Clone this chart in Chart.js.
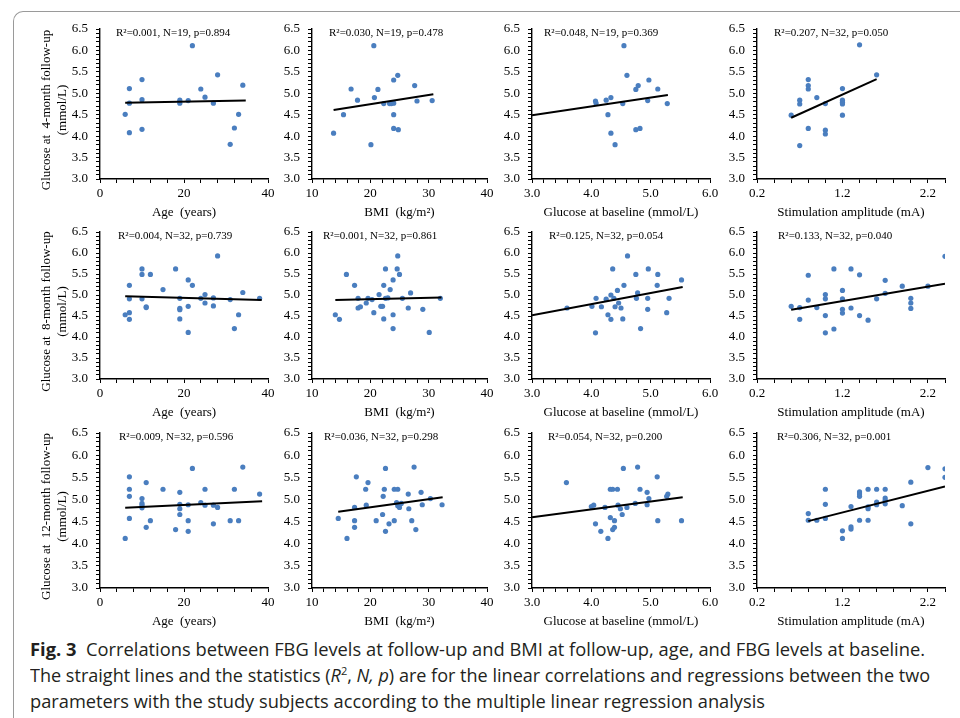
<!DOCTYPE html>
<html><head><meta charset="utf-8">
<script src="https://cdn.jsdelivr.net/npm/chart.js@4.4.1/dist/chart.umd.min.js"></script>
<style>
html,body{margin:0;padding:0;background:#fff;}
body{width:960px;height:718px;position:relative;overflow:hidden;}
.frame{position:absolute;left:13px;top:11px;width:980px;height:760px;border-left:1px solid #9a9a9a;border-top:1px solid #9a9a9a;border-top-left-radius:10px;}
canvas{position:absolute;}
.cap{position:absolute;left:30px;white-space:nowrap;font-family:"Open Sans";font-size:18px;line-height:26px;color:#231f20;transform-origin:0 50%;}
</style></head><body>
<div class="frame"></div>
<div class="cap" id="cap1" style="top:636px"><b>Fig. 3</b>&nbsp; Correlations between FBG levels at follow-up and BMI at follow-up, age, and FBG levels at baseline.</div>
<div class="cap" id="cap2" style="top:662px">The straight lines and the statistics (<i>R</i><sup style="font-size:11px;line-height:0">2</sup>, <i>N, p</i>) are for the linear correlations and regressions between the two</div>
<div class="cap" id="cap3" style="top:688px">parameters with the study subjects according to the multiple linear regression analysis</div>
<script>
// ---------- data ----------
// Row 1: glucose at 4-month follow-up
const age4X = [6, 7, 7, 7, 10, 10, 10, 19, 19, 21, 22, 24, 25, 27, 28, 31, 32, 33, 34];
const age4Y = [4.51, 5.11, 4.77, 4.08, 5.32, 4.85, 4.16, 4.84, 4.77, 4.83, 6.11, 5.10, 4.91, 4.77, 5.43, 3.81, 4.19, 4.51, 5.19];
const age4FitX = [6.0, 34.7]; const age4FitY = [4.78, 4.83];

const bmi4X = [13.7, 15.4, 16.7, 17.8, 20.1, 20.6, 20.7, 21.3, 22.3, 23.3, 23.6, 24.0, 24.0, 24.0, 24.0, 24.7, 24.8, 27.6, 28.0, 30.6];
const bmi4Y = [4.07, 4.50, 5.10, 4.84, 3.80, 6.11, 4.90, 5.09, 4.76, 4.76, 4.76, 4.77, 5.31, 4.50, 4.18, 5.42, 4.15, 5.18, 4.82, 4.83];
const bmi4FitX = [13.7, 30.8]; const bmi4FitY = [4.61, 4.98];

const base4X = [4.07, 4.08, 4.25, 4.28, 4.33, 4.33, 4.40, 4.53, 4.55, 4.60, 4.75, 4.75, 4.79, 4.82, 4.95, 4.97, 5.12, 5.28];
const base4Y = [4.82, 4.77, 4.84, 4.50, 4.90, 4.07, 3.80, 4.76, 6.11, 5.42, 4.15, 5.09, 5.18, 4.18, 4.83, 5.31, 5.10, 4.76];
const base4FitX = [3.0, 5.29]; const base4FitY = [4.49, 4.96];

const amp4X = [0.6, 0.7, 0.7, 0.7, 0.8, 0.8, 0.8, 0.8, 0.9, 1.0, 1.0, 1.0, 1.2, 1.2, 1.2, 1.2, 1.2, 1.4, 1.6];
const amp4Y = [4.49, 4.84, 4.75, 3.78, 5.32, 5.18, 5.10, 4.18, 4.90, 4.76, 4.14, 4.05, 5.11, 4.84, 4.79, 4.75, 4.49, 6.13, 5.43];
const amp4FitX = [0.6, 1.6]; const amp4FitY = [4.43, 5.33];

// Row 2: glucose at 8-month follow-up
const age8X = [6, 7, 7, 7, 7, 10, 10, 10, 11, 11, 12, 15, 18, 19, 19, 19, 19, 21, 21, 21, 22, 24, 25, 25, 27, 27, 28, 31, 32, 33, 34, 38];
const age8Y = [4.53, 5.23, 4.91, 4.58, 4.42, 5.62, 5.49, 4.91, 4.72, 4.70, 5.49, 5.13, 5.62, 4.92, 4.68, 4.65, 4.43, 5.36, 4.73, 4.11, 5.23, 4.92, 5.01, 4.81, 4.93, 4.74, 5.93, 4.89, 4.20, 4.53, 5.06, 4.92];
const age8FitX = [6.0, 38.5]; const age8FitY = [4.97, 4.88];

const bmi8X = [14.0, 14.7, 15.9, 17.3, 17.9, 17.9, 18.3, 19.3, 19.6, 20.3, 20.6, 21.5, 21.8, 22.1, 22.3, 22.3, 22.6, 22.6, 23.0, 23.4, 23.9, 23.9, 23.9, 24.6, 24.7, 25.0, 25.5, 26.9, 26.5, 29.0, 30.1, 32.0];
const bmi8Y = [4.53, 4.42, 5.49, 5.23, 4.92, 4.69, 4.72, 4.81, 4.92, 4.89, 4.58, 5.01, 4.73, 4.73, 5.23, 4.43, 4.92, 5.62, 4.93, 5.13, 5.36, 4.53, 4.20, 5.62, 5.93, 5.49, 4.92, 5.05, 4.69, 4.66, 4.11, 4.92];
const bmi8FitX = [14.0, 32.2]; const bmi8FitY = [4.88, 4.94];

const base8X = [3.59, 4.01, 4.08, 4.07, 4.17, 4.25, 4.28, 4.33, 4.33, 4.36, 4.38, 4.40, 4.44, 4.46, 4.50, 4.53, 4.55, 4.61, 4.75, 4.76, 4.78, 4.83, 4.95, 4.95, 4.96, 5.12, 5.11, 5.27, 5.31, 5.52];
const base8Y = [4.69, 4.73, 4.92, 4.10, 4.72, 4.90, 4.53, 5.00, 4.42, 5.62, 4.92, 4.72, 5.11, 4.81, 4.69, 4.43, 5.23, 5.93, 5.49, 4.92, 5.05, 4.20, 4.92, 4.66, 5.62, 5.49, 5.23, 4.58, 4.92, 5.36];
const base8FitX = [3.0, 5.54]; const base8FitY = [4.52, 5.19];

const amp8X = [0.6, 0.7, 0.7, 0.8, 0.8, 0.9, 1.0, 1.0, 1.0, 1.0, 1.1, 1.1, 1.2, 1.2, 1.2, 1.2, 1.3, 1.3, 1.4, 1.4, 1.5, 1.6, 1.7, 1.7, 1.9, 2.0, 2.0, 2.0, 2.2, 2.4];
const amp8Y = [4.73, 4.70, 4.42, 5.47, 4.88, 4.70, 5.01, 4.91, 4.51, 4.10, 5.62, 4.19, 5.11, 4.91, 4.66, 4.57, 5.62, 4.69, 5.48, 4.51, 4.40, 4.91, 5.35, 5.04, 5.21, 4.92, 4.81, 4.68, 5.21, 5.92];
const amp8FitX = [0.6, 2.4]; const amp8FitY = [4.65, 5.27];

// Row 3: glucose at 12-month follow-up
const age12X = [6, 7, 7, 7, 7, 10, 10, 10, 10, 11, 11, 12, 15, 18, 19, 19, 19, 19, 21, 21, 21, 22, 24, 25, 25, 27, 27, 28, 31, 32, 33, 34, 38];
const age12Y = [4.12, 5.51, 5.23, 5.07, 4.57, 5.02, 4.91, 4.87, 4.81, 5.38, 4.37, 4.52, 5.23, 4.32, 5.16, 4.89, 4.79, 4.66, 4.88, 4.52, 4.28, 5.70, 4.93, 5.23, 4.87, 4.87, 4.45, 4.82, 4.52, 5.23, 4.52, 5.73, 5.12];
const age12FitX = [6.0, 38.6]; const age12FitY = [4.81, 4.96];

const bmi12X = [14.5, 16.0, 17.3, 17.3, 17.3, 17.6, 19.2, 19.3, 19.6, 21.0, 22.1, 22.2, 22.4, 22.6, 22.6, 23.2, 24.1, 24.1, 24.7, 24.5, 24.7, 25.0, 25.3, 26.5, 26.6, 27.1, 27.5, 27.8, 28.7, 28.9, 30.3, 32.3];
const bmi12Y = [4.57, 4.12, 4.82, 4.52, 4.37, 5.51, 5.23, 4.87, 5.38, 4.52, 4.66, 5.07, 5.23, 5.70, 4.28, 4.45, 4.52, 5.23, 5.23, 4.93, 4.86, 4.82, 4.91, 5.12, 4.79, 4.52, 5.73, 4.32, 5.16, 4.88, 5.02, 4.88];
const bmi12FitX = [14.5, 32.4]; const bmi12FitY = [4.72, 5.05];

const base12X = [3.58, 4.00, 4.04, 4.07, 4.16, 4.23, 4.28, 4.32, 4.36, 4.32, 4.36, 4.39, 4.39, 4.44, 4.45, 4.49, 4.52, 4.54, 4.60, 4.74, 4.78, 4.82, 4.94, 4.94, 4.97, 5.11, 5.12, 5.27, 5.29, 5.52];
const base12Y = [5.38, 4.84, 4.87, 4.45, 4.28, 4.82, 4.12, 5.23, 5.23, 4.59, 4.32, 4.37, 4.52, 5.23, 4.87, 4.79, 4.66, 5.70, 4.82, 4.91, 5.73, 5.23, 5.16, 4.88, 5.02, 5.51, 4.52, 5.07, 5.12, 4.52];
const base12FitX = [3.0, 5.54]; const base12FitY = [4.60, 5.05];

const amp12X = [0.8, 0.8, 0.9, 1.0, 1.0, 1.0, 1.2, 1.2, 1.3, 1.3, 1.3, 1.4, 1.4, 1.4, 1.4, 1.5, 1.5, 1.5, 1.5, 1.6, 1.6, 1.6, 1.7, 1.7, 1.7, 1.7, 1.9, 2.0, 2.0, 2.2, 2.4, 2.4];
const amp12Y = [4.68, 4.53, 4.53, 5.23, 4.89, 4.57, 4.29, 4.12, 4.84, 4.38, 4.33, 5.17, 5.12, 5.07, 4.53, 5.23, 4.83, 4.79, 4.53, 5.23, 4.94, 4.88, 5.23, 5.03, 4.98, 4.90, 4.86, 5.39, 4.45, 5.72, 5.69, 5.50];
const amp12FitX = [0.8, 2.4]; const amp12FitY = [4.51, 5.29];

const statLabels = [
  "R²=0.001, N=19, p=0.894", "R²=0.030, N=19, p=0.478", "R²=0.048, N=19, p=0.369", "R²=0.207, N=32, p=0.050",
  "R²=0.004, N=32, p=0.739", "R²=0.001, N=32, p=0.861", "R²=0.125, N=32, p=0.054", "R²=0.133, N=32, p=0.040",
  "R²=0.009, N=32, p=0.596", "R²=0.036, N=32, p=0.298", "R²=0.054, N=32, p=0.200", "R²=0.306, N=32, p=0.001"
];
const xTitles = ["Age  (years)", "BMI  (kg/m²)", "Glucose at baseline (mmol/L)", "Stimulation amplitude (mA)"];
const yTitles = [["Glucose at  4-month follow-up", "(mmol/L)"], ["Glucose at  8-month follow-up", "(mmol/L)"], ["Glucose at  12-month follow-up", "(mmol/L)"]];
// x-axis tick specs per column
const xMin = [0, 10, 3.0, 0.2];
const xMax = [40, 40, 6.0, 2.4];
const xMinorStep = [4, 2, 0.2, 0.2];
const xMajorStep = [20, 10, 1, 1];
const xDecimals = [0, 0, 1, 1];
// y-axis tick specs
const yMin = 3.0, yMax = 6.5, yMinorStep = 0.1, yMajorStep = 0.5;

// ---------- layout ----------
const colLeft = [100, 312, 532, 757];
const colRight = [268, 487, 710, 945];
const rowTop = [29, 232, 433];
const rowBottom = [179, 379, 588];
const statDx = [16, 17, 12, 17, 18, 11, 17, 21, 19, 12, 16, 20];

const panels = [
  [age4X, age4Y, age4FitX, age4FitY], [bmi4X, bmi4Y, bmi4FitX, bmi4FitY], [base4X, base4Y, base4FitX, base4FitY], [amp4X, amp4Y, amp4FitX, amp4FitY],
  [age8X, age8Y, age8FitX, age8FitY], [bmi8X, bmi8Y, bmi8FitX, bmi8FitY], [base8X, base8Y, base8FitX, base8FitY], [amp8X, amp8Y, amp8FitX, amp8FitY],
  [age12X, age12Y, age12FitX, age12FitY], [bmi12X, bmi12Y, bmi12FitX, bmi12FitY], [base12X, base12Y, base12FitX, base12FitY], [amp12X, amp12Y, amp12FitX, amp12FitY]
];

const serifFamily = '"Liberation Serif", "Times New Roman", serif';
const serif = {family: serifFamily, size: 13};

// statistics text + rotated y-axis title
const annotPlugin = {
  id: 'annot',
  afterDraw(chart, args, opts) {
    const ctx = chart.ctx, a = chart.chartArea;
    ctx.save();
    ctx.font = '11px ' + serifFamily;
    ctx.fillStyle = '#000';
    ctx.textBaseline = 'middle';
    ctx.textAlign = 'left';
    ctx.fillText(opts.text, a.left + opts.dx, a.top + 4);
    if (opts.ytitle) {
      ctx.font = '13px ' + serifFamily;
      ctx.textAlign = 'center';
      const cy = (a.top + a.bottom) / 2 + 6;
      opts.ytitle.forEach((line, k) => {
        ctx.save();
        ctx.translate(8 + k * 16, cy);
        ctx.rotate(-Math.PI / 2);
        ctx.fillText(line, 0, 0);
        ctx.restore();
      });
    }
    ctx.restore();
  }
};

const isMajor = (v, base, step) => { const k = (v - base) / step; return Math.abs(k - Math.round(k)) < 1e-6; };

panels.forEach((p, i) => {
  const r = Math.floor(i / 4), c = i % 4;
  const yW = c === 0 ? 61 : 40;
  const padT = 17, padR = 14, xH = 41;
  const left = colLeft[c], right = colRight[c], top = rowTop[r], bottom = rowBottom[r];
  const W = yW + (right - left) + padR, H = padT + (bottom - top) + xH;
  const cv = document.createElement('canvas');
  cv.width = W; cv.height = H;
  cv.style.left = (left - yW) + 'px'; cv.style.top = (top - padT) + 'px';
  cv.style.width = W + 'px'; cv.style.height = H + 'px';
  document.body.appendChild(cv);
  const [xs, ys, fx, fy] = p;
  new Chart(cv, {
    type: 'scatter',
    data: {
      datasets: [
        {type: 'line', data: fx.map((v, k) => ({x: v, y: fy[k]})), borderColor: '#000', borderWidth: 2, pointRadius: 0, fill: false, order: 0},
        {type: 'scatter', data: xs.map((v, k) => ({x: v, y: ys[k]})), backgroundColor: '#4a7ebf', borderWidth: 0, pointRadius: 2.6, order: 1}
      ]
    },
    options: {
      responsive: false, animation: false, devicePixelRatio: 1,
      layout: {autoPadding: false, padding: {left: 0, top: padT, right: padR, bottom: 0}},
      plugins: {legend: {display: false}, tooltip: {enabled: false},
        annot: {text: statLabels[i], dx: statDx[i], ytitle: c === 0 ? yTitles[r] : null}},
      scales: {
        x: {
          type: 'linear', position: 'bottom', min: xMin[c], max: xMax[c],
          afterFit: s => { s.height = xH; },
          border: {display: true, color: '#000', width: 1.4},
          grid: {display: true, drawOnChartArea: false, drawTicks: true, tickLength: 4, tickColor: '#000', tickWidth: 1},
          ticks: {stepSize: xMinorStep[c], autoSkip: false, maxRotation: 0, padding: 3, color: '#000', font: serif,
            callback: v => isMajor(v, xMin[c], xMajorStep[c]) ? Number(v).toFixed(xDecimals[c]) : ''},
          title: {display: true, text: xTitles[c], color: '#000', font: serif, padding: {top: 0, bottom: 0}}
        },
        y: {
          type: 'linear', position: 'left', min: yMin, max: yMax,
          afterFit: s => { s.width = yW; },
          border: {display: true, color: '#000', width: 1.4},
          grid: {display: true, drawOnChartArea: false, drawTicks: true, tickLength: 4, tickColor: '#000', tickWidth: 1},
          ticks: {stepSize: yMinorStep, autoSkip: false, padding: 8, color: '#000', font: serif,
            callback: v => isMajor(v, yMin, yMajorStep) ? Number(v).toFixed(1) : ''},
          title: {display: false}
        }
      }
    },
    plugins: [annotPlugin]
  });
});

// caption horizontal fit to the reference line widths
(function () {
  const targets = {cap1: 895, cap2: 900, cap3: 735};
  Object.keys(targets).forEach(id => {
    const el = document.getElementById(id);
    const s = targets[id] / el.getBoundingClientRect().width;
    el.style.transform = 'scaleX(' + s + ')';
  });
})();
</script>
</body></html>
